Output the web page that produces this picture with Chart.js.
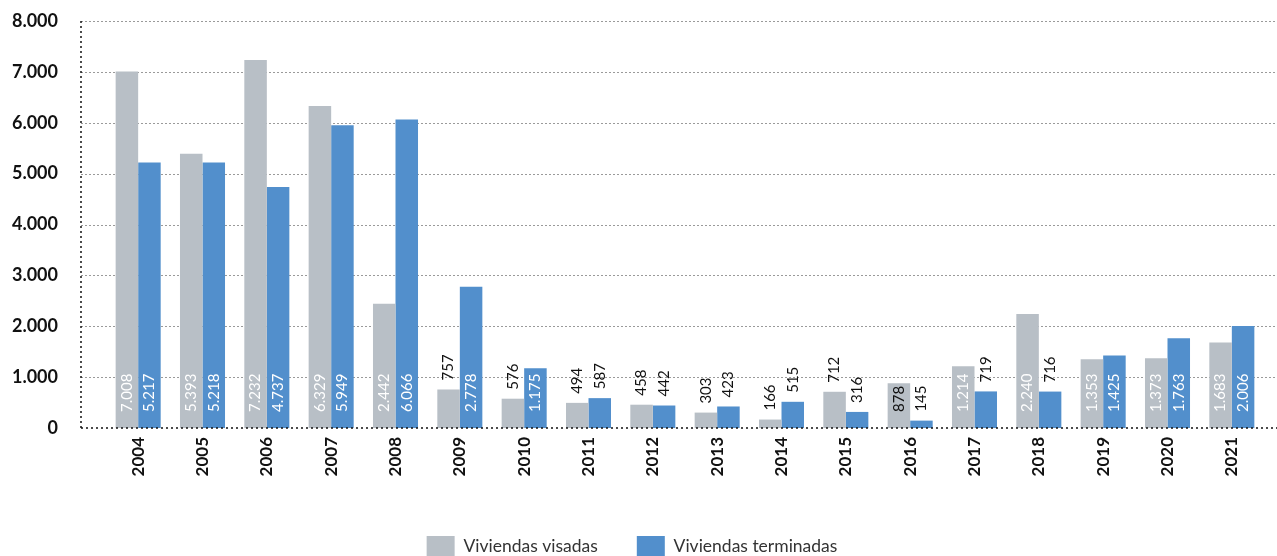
<!DOCTYPE html>
<html>
<head>
<meta charset="utf-8">
<script src="https://cdn.jsdelivr.net/npm/chart.js@4.4.1/dist/chart.umd.min.js"></script>
<style>
  html, body { margin: 0; padding: 0; background: #fff; }
  #wrap { width: 1277px; height: 556px; }
</style>
</head>
<body>
<div id="wrap"><canvas id="chart" width="1277" height="556"></canvas></div>
<script>
// data
var years = ['2004', '2005', '2006', '2007', '2008', '2009', '2010', '2011', '2012',
             '2013', '2014', '2015', '2016', '2017', '2018', '2019', '2020', '2021'];
var visadas = [7008, 5393, 7232, 6329, 2442, 757, 576, 494, 458,
               303, 166, 712, 878, 1214, 2240, 1353, 1373, 1683];
var terminadas = [5217, 5218, 4737, 5949, 6066, 2778, 1175, 587, 442,
                  423, 515, 316, 145, 719, 716, 1425, 1763, 2006];
var yTicks = [0, 1000, 2000, 3000, 4000, 5000, 6000, 7000, 8000];

function fmt(v) {
    return String(v).replace(/\B(?=(\d{3})+(?!\d))/g, '.');
}

var FONT = 'Lato, "Open Sans", sans-serif';

// dotted grid and axis lines, extended a bit past the bar area like the original
var gridPlugin = {
    id: 'dottedGrid',
    beforeDatasetsDraw: function (chart) {
        var ctx = chart.ctx;
        var area = chart.chartArea;
        var y = chart.scales.y;
        var left = area.left - 25;
        var right = chart.width;
        ctx.save();
        ctx.lineWidth = 1;
        ctx.strokeStyle = '#9a9a9a';
        ctx.setLineDash([2, 2]);
        yTicks.forEach(function (t) {
            if (t === 0) return;
            var py = Math.round(y.getPixelForValue(t)) + 0.5;
            ctx.beginPath();
            ctx.moveTo(left, py);
            ctx.lineTo(right, py);
            ctx.stroke();
        });
        ctx.restore();
    },
    afterDatasetsDraw: function (chart) {
        var ctx = chart.ctx;
        var area = chart.chartArea;
        var y = chart.scales.y;
        var left = area.left - 25;
        ctx.save();
        ctx.strokeStyle = '#111';
        ctx.lineWidth = 1.5;
        ctx.setLineDash([2, 3]);
        var y0 = y.getPixelForValue(0);
        ctx.beginPath();
        ctx.moveTo(left, y.getPixelForValue(8000));
        ctx.lineTo(left, y0);
        ctx.stroke();
        ctx.beginPath();
        ctx.moveTo(left, y0);
        ctx.lineTo(chart.width, y0);
        ctx.stroke();
        ctx.restore();
    }
};

// rotated value labels: inside the bar near the base if they fit, otherwise above
var labelPlugin = {
    id: 'barLabels',
    afterDatasetsDraw: function (chart) {
        var ctx = chart.ctx;
        var y0 = chart.scales.y.getPixelForValue(0);
        ctx.save();
        ctx.font = '15px ' + FONT;
        ctx.textBaseline = 'middle';
        chart.data.datasets.forEach(function (ds, i) {
            var meta = chart.getDatasetMeta(i);
            meta.data.forEach(function (bar, j) {
                var v = ds.data[j];
                var txt = fmt(v);
                var w = ctx.measureText(txt).width;
                var start = y0 - 16;
                var color = v >= 1000 ? '#ffffff' : '#111111';
                if (start - w - 2 < bar.y) {
                    start = bar.y - 9;
                    color = '#111111';
                }
                ctx.save();
                ctx.translate(bar.x, start);
                ctx.rotate(-Math.PI / 2);
                ctx.fillStyle = color;
                ctx.textAlign = 'left';
                ctx.fillText(txt, 0, 0);
                ctx.restore();
            });
        });
        ctx.restore();
    }
};

new Chart(document.getElementById('chart'), {
    type: 'bar',
    data: {
        labels: years,
        datasets: [{
            label: 'Viviendas visadas',
            data: visadas,
            backgroundColor: '#b8bfc6'
        }, {
            label: 'Viviendas terminadas',
            data: terminadas,
            backgroundColor: '#528fcc'
        }]
    },
    options: {
        responsive: false,
        animation: false,
        layout: {
            autoPadding: false,
            padding: { top: 21, right: 13, left: 0, bottom: -10 }
        },
        datasets: {
            bar: { categoryPercentage: 0.7, barPercentage: 1.0 }
        },
        scales: {
            x: {
                grid: { display: false, drawTicks: false },
                border: { display: false },
                ticks: {
                    minRotation: 90,
                    maxRotation: 90,
                    padding: 9,
                    color: '#111',
                    font: { family: FONT, size: 17, weight: 'bold' }
                },
                afterFit: function (scale) { scale.height = 69; }
            },
            y: {
                min: 0,
                max: 8000,
                grid: { display: false, drawTicks: false },
                border: { display: false },
                ticks: {
                    stepSize: 1000,
                    padding: 48,
                    color: '#111',
                    font: { family: FONT, size: 18, weight: 'bold' },
                    callback: function (v) { return fmt(v); }
                },
                afterFit: function (scale) {
                    // the large tick padding would otherwise push the plot down
                    scale.width = 106;
                    scale.paddingTop = 10;
                    scale.paddingBottom = 0;
                }
            }
        },
        plugins: {
            legend: {
                position: 'bottom',
                labels: {
                    boxWidth: 28,
                    boxHeight: 20,
                    padding: 39,
                    color: '#333',
                    font: { family: FONT, size: 17.5 }
                }
            },
            tooltip: { enabled: false }
        }
    },
    plugins: [gridPlugin, labelPlugin]
});
</script>
</body>
</html>
